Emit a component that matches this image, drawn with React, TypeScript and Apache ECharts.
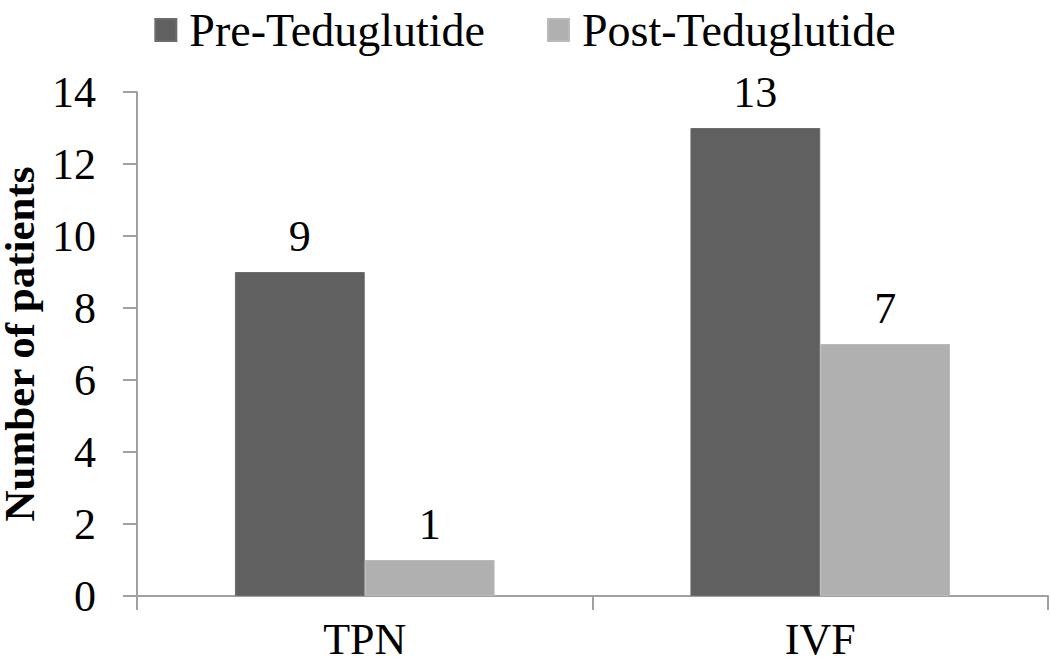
import React, { useEffect, useRef } from "react";
import * as echarts from "echarts";

const categories = ["TPN", "IVF"];
const seriesNames = ["Pre-Teduglutide", "Post-Teduglutide"];
const preValues = [9, 13];
const postValues = [1, 7];
const yTicks = { min: 0, max: 14, interval: 2 };

const FONT = "'Liberation Serif', 'Times New Roman', serif";

export default function App() {
  const ref = useRef<HTMLDivElement>(null);
  useEffect(() => {
    document.body.style.margin = "0";
    const chart = echarts.init(ref.current!, null, { renderer: "svg" });
    const labelStyle = {
      show: true,
      position: "top" as const,
      distance: 14,
      fontFamily: FONT,
      fontSize: 44,
      color: "#000",
    };
    chart.setOption({
      animation: false,
      backgroundColor: "#fff",
      legend: {
        top: 2,
        left: "center",
        itemWidth: 21,
        itemHeight: 22,
        itemGap: 62,
        icon: "rect",
        textStyle: {
          fontFamily: FONT,
          fontSize: 46,
          color: "#000",
          padding: [0, 0, 0, 8],
        },
        data: seriesNames,
      },
      grid: {
        left: 137,
        right: 2,
        top: 92,
        bottom: 67,
        containLabel: false,
        outerBoundsMode: "none",
      },
      xAxis: {
        type: "category",
        data: categories,
        axisLine: { lineStyle: { color: "#a0a0a0", width: 2 } },
        axisTick: { show: true, length: 14, lineStyle: { color: "#a0a0a0", width: 2 } },
        axisLabel: { fontFamily: FONT, fontSize: 44, color: "#000", margin: 21 },
      },
      yAxis: {
        type: "value",
        min: yTicks.min,
        max: yTicks.max,
        interval: yTicks.interval,
        name: "Number of patients",
        nameLocation: "middle",
        nameGap: 86,
        nameTextStyle: {
          fontFamily: FONT,
          fontSize: 43,
          lineHeight: 40,
          fontWeight: "bold",
          color: "#000",
        },
        axisLine: { show: true, lineStyle: { color: "#a0a0a0", width: 2 } },
        axisTick: { show: true, length: 14, lineStyle: { color: "#a0a0a0", width: 2 } },
        axisLabel: { fontFamily: FONT, fontSize: 44, color: "#000", margin: 41 },
        splitLine: { show: false },
      },
      series: [
        {
          name: seriesNames[0],
          type: "bar",
          data: preValues,
          barGap: "0%",
          barCategoryGap: "43%",
          itemStyle: { color: "#606060", borderColor: "#6c6c6c", borderWidth: 1 },
          label: labelStyle,
        },
        {
          name: seriesNames[1],
          type: "bar",
          data: postValues,
          barGap: "0%",
          barCategoryGap: "43%",
          itemStyle: { color: "#b0b0b0", borderColor: "#bababa", borderWidth: 1 },
          label: labelStyle,
        },
      ],
    });
    return () => chart.dispose();
  }, []);
  return (
    <div
      ref={ref}
      style={{ position: "absolute", left: 0, top: 0, width: 1050, height: 663 }}
    />
  );
}
